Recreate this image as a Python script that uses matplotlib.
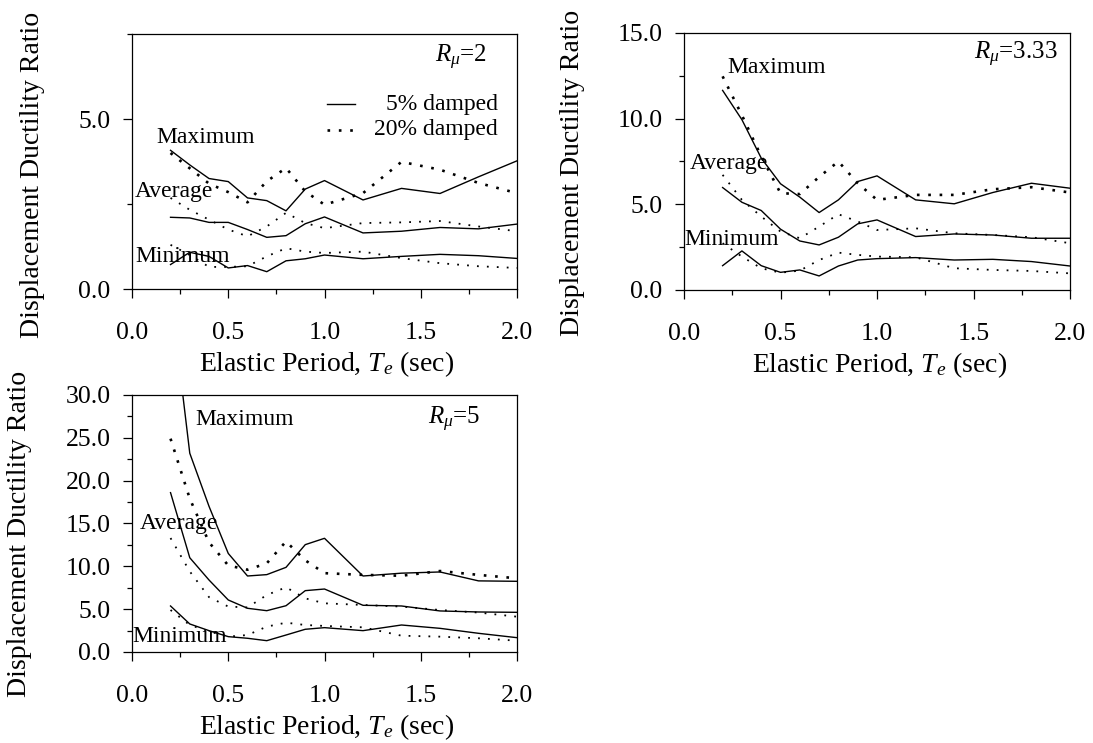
import matplotlib
matplotlib.use("Agg")
import matplotlib.pyplot as plt
from matplotlib.ticker import MultipleLocator, FormatStrFormatter

plt.rcParams['font.family'] = ['Liberation Serif', 'DejaVu Serif']
plt.rcParams['mathtext.fontset'] = 'custom'
plt.rcParams['mathtext.rm'] = 'Liberation Serif'
plt.rcParams['mathtext.it'] = 'Liberation Serif:italic'

# elastic periods (sec)
periods = [0.2, 0.3, 0.4, 0.5, 0.6, 0.7, 0.8, 0.9, 1.0, 1.2, 1.4, 1.6, 1.8, 2.0]

# R_mu = 2
r2_max_5 = [4.08, 3.65, 3.25, 3.16, 2.68, 2.60, 2.30, 2.94, 3.19, 2.62, 2.96, 2.81, 3.30, 3.77]
r2_max_20 = [4.00, 3.55, 3.10, 2.85, 2.55, 3.17, 3.56, 2.87, 2.48, 2.82, 3.74, 3.51, 3.12, 2.82]
r2_avg_5 = [2.11, 2.09, 1.96, 1.96, 1.75, 1.52, 1.57, 1.92, 2.12, 1.65, 1.70, 1.81, 1.77, 1.91]
r2_avg_20 = [2.68, 2.33, 2.04, 1.75, 1.55, 1.84, 2.24, 1.94, 1.79, 1.94, 1.96, 2.00, 1.84, 1.70]
r2_min_5 = [0.72, 1.08, 0.96, 0.62, 0.69, 0.51, 0.83, 0.89, 1.00, 0.89, 0.96, 1.02, 0.98, 0.90]
r2_min_20 = [1.30, 1.00, 0.65, 0.65, 0.67, 0.96, 1.20, 1.10, 1.06, 1.10, 0.91, 0.76, 0.67, 0.62]

# R_mu = 3.33
r3_max_5 = [11.65, 9.94, 7.70, 6.20, 5.42, 4.52, 5.26, 6.33, 6.66, 5.26, 5.03, 5.69, 6.23, 5.94]
r3_max_20 = [12.47, 10.20, 7.80, 5.65, 5.60, 6.60, 7.50, 6.23, 5.26, 5.55, 5.55, 5.88, 6.00, 5.69]
r3_avg_5 = [5.98, 5.12, 4.64, 3.55, 2.86, 2.63, 3.08, 3.86, 4.09, 3.12, 3.27, 3.21, 3.02, 3.02]
r3_avg_20 = [6.72, 5.26, 4.29, 3.41, 3.02, 3.70, 4.42, 4.00, 3.50, 3.60, 3.31, 3.21, 3.08, 2.73]
r3_min_5 = [1.42, 2.28, 1.42, 1.03, 1.17, 0.82, 1.40, 1.75, 1.83, 1.89, 1.75, 1.79, 1.66, 1.40]
r3_min_20 = [2.73, 1.95, 1.27, 1.01, 1.13, 1.75, 2.18, 2.05, 1.95, 1.91, 1.27, 1.17, 1.11, 0.97]

# R_mu = 5
r5_max_5 = [42.0, 23.2, 17.0, 11.5, 8.87, 9.03, 9.88, 12.53, 13.27, 8.87, 9.20, 9.34, 8.30, 8.25]
r5_max_20 = [24.9, 17.9, 12.8, 10.1, 9.6, 10.35, 12.9, 10.7, 9.2, 9.0, 8.9, 9.45, 9.0, 8.6]
r5_avg_5 = [18.6, 11.0, 8.4, 6.07, 5.1, 4.82, 5.4, 7.16, 7.35, 5.45, 5.37, 4.79, 4.67, 4.63]
r5_avg_20 = [13.3, 9.4, 6.4, 5.3, 5.2, 6.65, 7.55, 6.26, 5.68, 5.49, 5.3, 4.9, 4.6, 4.12]
r5_min_5 = [5.37, 3.27, 2.49, 1.79, 1.6, 1.32, 1.98, 2.65, 2.84, 2.49, 3.15, 2.76, 2.18, 1.67]
r5_min_20 = [4.9, 3.15, 2.4, 1.79, 1.98, 2.96, 3.42, 3.15, 3.04, 2.88, 1.9, 1.79, 1.6, 1.32]

fig = plt.figure(figsize=(10.93, 7.43), dpi=100)

ax1 = fig.add_axes([0.1208, 0.6110, 0.3522, 0.3432])
ax2 = fig.add_axes([0.6258, 0.6097, 0.3532, 0.3459])
ax3 = fig.add_axes([0.1208, 0.1225, 0.3522, 0.3459])

dot_big = (0, (1, 3.3))
dot_small = (0, (1, 4.5))


def draw_set(ax, mx5, mx20, av5, av20, mn5, mn20):
    ax.plot(periods, mx5, color='black', lw=1.0)
    ax.plot(periods, mx20, color='black', lw=1.9, linestyle=dot_big)
    ax.plot(periods, av5, color='black', lw=1.0)
    ax.plot(periods, av20, color='black', lw=1.3, linestyle=dot_small)
    ax.plot(periods, mn5, color='black', lw=1.0)
    ax.plot(periods, mn20, color='black', lw=1.3, linestyle=dot_small)


def style_axes(ax, ymax, ymajor, label_xy):
    ax.set_xlim(0, 2.0)
    ax.set_ylim(0, ymax)
    ax.xaxis.set_major_locator(MultipleLocator(0.5))
    ax.xaxis.set_minor_locator(MultipleLocator(0.25))
    ax.yaxis.set_major_locator(MultipleLocator(ymajor))
    ax.yaxis.set_minor_locator(MultipleLocator(2.5))
    ax.xaxis.set_major_formatter(FormatStrFormatter('%.1f'))
    ax.yaxis.set_major_formatter(FormatStrFormatter('%.1f'))
    ax.tick_params(which='major', direction='out', length=6.5, width=0.9,
                   labelsize=18.5)
    ax.tick_params(which='minor', direction='out', length=3.5, width=0.9)
    ax.tick_params(axis='x', which='major', pad=17.5)
    ax.tick_params(axis='y', which='major', pad=9)
    for sp in ax.spines.values():
        sp.set_linewidth(0.9)
    ax.set_xlabel('Elastic Period, $T_e$ (sec)', fontsize=20)
    ax.set_ylabel('Displacement Ductility Ratio', fontsize=20)
    ax.xaxis.set_label_coords(0.506, -0.235)
    ax.yaxis.set_label_coords(label_xy[0], label_xy[1])


draw_set(ax1, r2_max_5, r2_max_20, r2_avg_5, r2_avg_20, r2_min_5, r2_min_20)
draw_set(ax2, r3_max_5, r3_max_20, r3_avg_5, r3_avg_20, r3_min_5, r3_min_20)
draw_set(ax3, r5_max_5, r5_max_20, r5_avg_5, r5_avg_20, r5_min_5, r5_min_20)

style_axes(ax1, 7.5, 5.0, (-0.226, 0.447))
style_axes(ax2, 15.0, 5.0, (-0.256, 0.455))
style_axes(ax3, 30.0, 5.0, (-0.260, 0.459))

tsize = 17
ax1.text(0.128, 4.46, 'Maximum', fontsize=tsize, va='center')
ax1.text(0.016, 2.88, 'Average', fontsize=tsize, va='center')
ax1.text(0.016, 0.95, 'Minimum', fontsize=tsize, va='center')
ax1.text(1.575, 6.82, r'$R_{\mu}$=2', fontsize=18, va='center')

ax2.text(0.227, 12.97, 'Maximum', fontsize=tsize, va='center')
ax2.text(0.03, 7.36, 'Average', fontsize=tsize, va='center')
ax2.text(0.003, 2.92, 'Minimum', fontsize=tsize, va='center')
ax2.text(1.50, 13.73, r'$R_{\mu}$=3.33', fontsize=18, va='center')

ax3.text(0.327, 27.1, 'Maximum', fontsize=tsize, va='center')
ax3.text(0.04, 15.0, 'Average', fontsize=tsize, va='center')
ax3.text(0.0, 1.8, 'Minimum', fontsize=tsize, va='center')
ax3.text(1.54, 27.1, r'$R_{\mu}$=5', fontsize=18, va='center')

# key for damping levels, text right-aligned
ax1.plot([0.506, 0.579], [0.725, 0.725], transform=ax1.transAxes,
         color='black', lw=1.0)
ax1.plot([0.506, 0.579], [0.624, 0.624], transform=ax1.transAxes,
         color='black', lw=1.9, linestyle=dot_big)
ax1.text(0.951, 0.725, '5% damped', transform=ax1.transAxes,
         fontsize=tsize, ha='right', va='center')
ax1.text(0.951, 0.624, '20% damped', transform=ax1.transAxes,
         fontsize=tsize, ha='right', va='center')

fig.savefig('out.png', dpi=100)
